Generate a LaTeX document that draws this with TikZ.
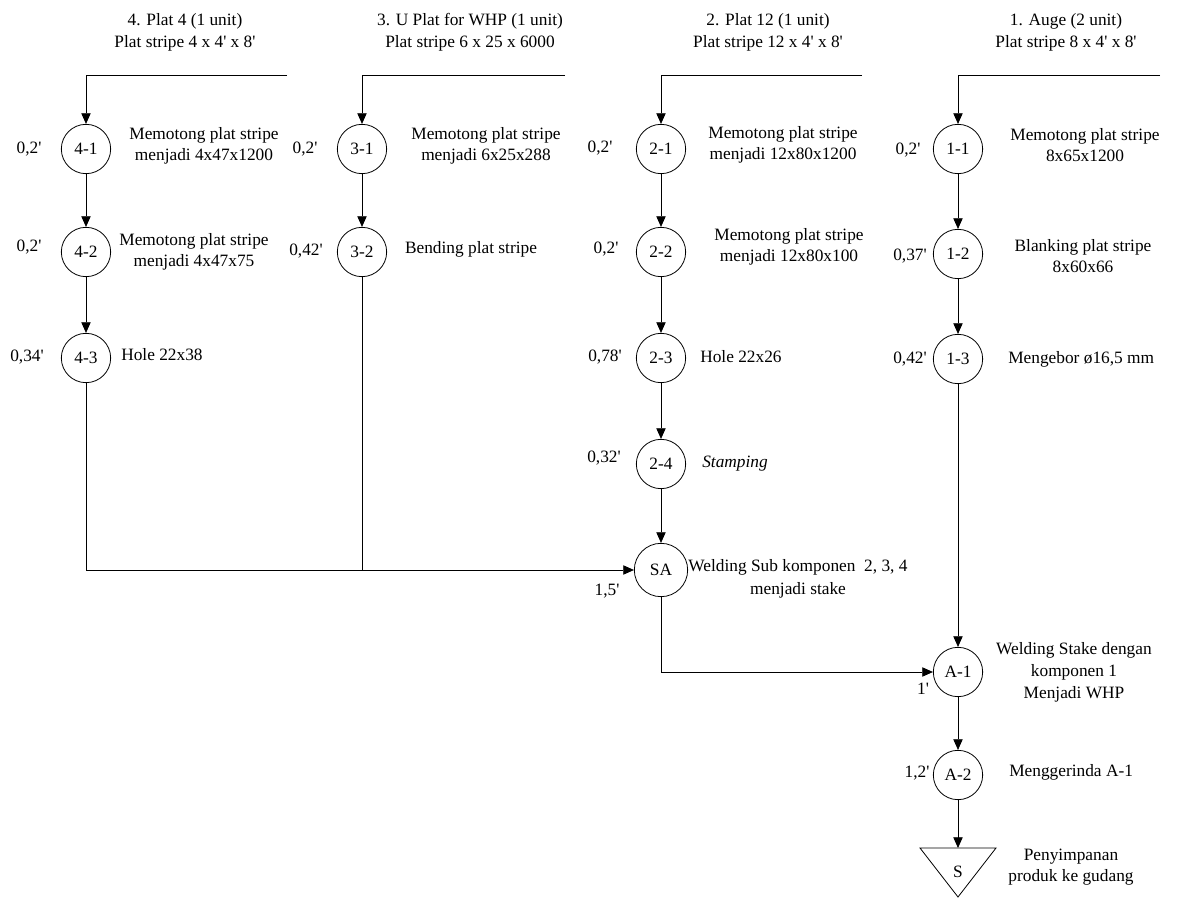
\documentclass[tikz,border=0pt]{standalone}
\usepackage{fontspec}
\setmainfont{Liberation Serif}
\usetikzlibrary{arrows.meta}
\newcommand{\q}{\textquotesingle}
\begin{document}
\begin{tikzpicture}[x=0.75pt,y=-0.75pt,
  font=\fontsize{13}{15.5}\selectfont,
  proc/.style={draw, circle, minimum size=37pt, inner sep=0pt, line width=0.6pt},
  lbl/.style={inner sep=0pt, align=center},
  flow/.style={line width=0.6pt, -{Triangle[length=8pt,width=7pt]}},
  plain/.style={line width=0.6pt}]
\useasboundingbox (0,0) rectangle (1183,898);

% headers
\node[lbl] (h4) at (185,32) {4. Plat 4 (1 unit)\\[1pt]Plat stripe 4 x 4\q{} x 8\q};
\node[lbl] (h3) at (470,32) {3. U Plat for WHP (1 unit)\\[1pt]Plat stripe 6 x 25 x 6000};
\node[lbl] (h2) at (768,32) {2. Plat 12 (1 unit)\\[1pt]Plat stripe 12 x 4\q{} x 8\q};
\node[lbl] (h1) at (1066,32) {1. Auge (2 unit)\\[1pt]Plat stripe 8 x 4\q{} x 8\q};

\coordinate (in4) at (287,75);
\coordinate (in3) at (565,75);
\coordinate (in2) at (862,75);
\coordinate (in1) at (1160,75);

% column 4
\node[proc] (n41) at (86,149) {4-1};
\node[proc] (n42) at (86,252) {4-2};
\node[proc] (n43) at (86,358) {4-3};
\node[lbl] (t41) at (29,149) {0,2\q};
\node[lbl] (t42) at (29,247) {0,2\q};
\node[lbl] (t43) at (27,357) {0,34\q};
\node[lbl] (l41) at (204,146) {Memotong plat stripe\\menjadi 4x47x1200};
\node[lbl] (l42) at (194,252) {Memotong plat stripe\\menjadi 4x47x75};
\node[lbl, anchor=west] (l43) at (121,355) {Hole 22x38};

% column 3
\node[proc] (n31) at (362,149) {3-1};
\node[proc] (n32) at (362,252) {3-2};
\node[lbl] (t31) at (305,149) {0,2\q};
\node[lbl] (t32) at (306,251) {0,42\q};
\node[lbl] (l31) at (486,146) {Memotong plat stripe\\menjadi 6x25x288};
\node[lbl] (l32) at (471,249) {Bending plat stripe};

% column 2
\node[proc] (n21) at (661,149) {2-1};
\node[proc] (n22) at (661,252) {2-2};
\node[proc] (n23) at (661,358) {2-3};
\node[proc] (n24) at (661,464) {2-4};
\node[proc, minimum size=40pt] (SA) at (661,570) {SA};
\node[lbl] (t21) at (600,148) {0,2\q};
\node[lbl] (t22) at (606,249) {0,2\q};
\node[lbl] (t23) at (605,357) {0,78\q};
\node[lbl] (t24) at (604,458) {0,32\q};
\node[lbl] (tSA) at (607,591) {1,5\q};
\node[lbl] (l21) at (783,145) {Memotong plat stripe\\menjadi 12x80x1200};
\node[lbl] (l22) at (789,247) {Memotong plat stripe\\menjadi 12x80x100};
\node[lbl, anchor=west] (l23) at (700,357) {Hole 22x26};
\node[lbl, anchor=west] (l24) at (702,464) {\textit{Stamping}};
\node[lbl] (lSA) at (798,579) {Welding Sub komponen\ \ 2, 3, 4\\[2pt]menjadi stake};

% column 1
\node[proc] (n11) at (958,149) {1-1};
\node[proc] (n12) at (958,254) {1-2};
\node[proc] (n13) at (958,359) {1-3};
\node[proc] (A1) at (958,672) {A-1};
\node[proc] (A2) at (958,775) {A-2};
\node[lbl] (t11) at (908,150) {0,2\q};
\node[lbl] (t12) at (910,256) {0,37\q};
\node[lbl] (t13) at (910,359) {0,42\q};
\node[lbl] (tA1) at (923,689) {1\q};
\node[lbl] (tA2) at (917,773) {1,2\q};
\node[lbl] (l11) at (1085,145) {Memotong plat stripe\\8x65x1200};
\node[lbl] (l12) at (1083,256) {Blanking plat stripe\\8x60x66};
\node[lbl, anchor=west] (l13) at (1008,359) {Mengebor ø16,5 mm};
\node[lbl] (lA1) at (1074,672) {Welding Stake dengan\\[1pt]komponen 1\\[1pt]Menjadi WHP};
\node[lbl, anchor=west] (lA2) at (1009,772) {Menggerinda A-1};

% storage triangle
\coordinate (Stop) at (958,848);
\draw[plain] (920,848) -- (996,848) -- (958,897) -- cycle;
\node[lbl] (S) at (958,872) {S};
\node[lbl] (lS) at (1071,867) {Penyimpanan\\produk ke gudang};

% connectors
\draw[flow] (in4) -| (n41);
\draw[flow] (n41) -- (n42);
\draw[flow] (n42) -- (n43);
\draw[flow] (n43) |- (SA);

\draw[flow] (in3) -| (n31);
\draw[flow] (n31) -- (n32);
\coordinate (j3) at (n32 |- SA);
\draw[plain] (n32) -- (j3);

\draw[flow] (in2) -| (n21);
\draw[flow] (n21) -- (n22);
\draw[flow] (n22) -- (n23);
\draw[flow] (n23) -- (n24);
\draw[flow] (n24) -- (SA);
\draw[flow] (SA) |- (A1);

\draw[flow] (in1) -| (n11);
\draw[flow] (n11) -- (n12);
\draw[flow] (n12) -- (n13);
\draw[flow] (n13) -- (A1);
\draw[flow] (A1) -- (A2);
\draw[flow] (A2) -- (Stop);
\end{tikzpicture}
\end{document}
